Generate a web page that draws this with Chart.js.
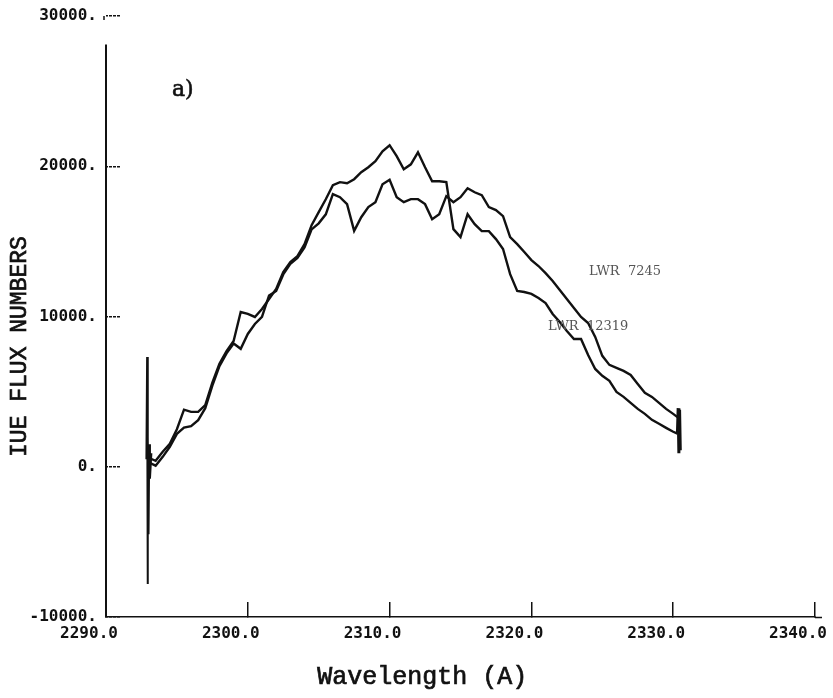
<!DOCTYPE html>
<html>
<head>
<meta charset="utf-8">
<title>IUE spectra</title>
<script src="https://cdn.jsdelivr.net/npm/chart.js@4.4.1/dist/chart.umd.min.js"></script>
<style>
  html, body { margin: 0; padding: 0; background: #fff; }
</style>
</head>
<body>
<canvas id="spectrum" width="833" height="698"></canvas>
<script>
// Wavelength grid (A), read every 0.5 A off the plot
const wavelength = [
  2293.0, 2293.5, 2294.0, 2294.5, 2295.0, 2295.5, 2296.0, 2296.5, 2297.0, 2297.5,
  2298.0, 2298.5, 2299.0, 2299.5, 2300.0, 2300.5, 2301.0, 2301.5, 2302.0, 2302.5,
  2303.0, 2303.5, 2304.0, 2304.5, 2305.0, 2305.5, 2306.0, 2306.5, 2307.0, 2307.5,
  2308.0, 2308.5, 2309.0, 2309.5, 2310.0, 2310.5, 2311.0, 2311.5, 2312.0, 2312.5,
  2313.0, 2313.5, 2314.0, 2314.5, 2315.0, 2315.5, 2316.0, 2316.5, 2317.0, 2317.5,
  2318.0, 2318.5, 2319.0, 2319.5, 2320.0, 2320.5, 2321.0, 2321.5, 2322.0, 2322.5,
  2323.0, 2323.5, 2324.0, 2324.5, 2325.0, 2325.5, 2326.0, 2326.5, 2327.0, 2327.5,
  2328.0, 2328.5, 2329.0, 2329.5, 2330.0, 2330.3
];

// LWR 12319 : higher around the peak, lower on the red side
const fluxLwr12319 = [
  600, 400, 1000, 1530, 2500, 3800, 3650, 3650, 4100, 5600,
  6850, 7700, 8370, 10300, 10170, 9970, 10500, 11160, 11830, 12960,
  13620, 14020, 14820, 16080, 16950, 17800, 18740, 18940, 18870, 19140,
  19600, 19935, 20330, 21000, 21400, 20670, 19800, 20130, 20930, 19935,
  19000, 19000, 18940, 15815, 15280, 16810, 16150, 15680, 15680, 15150,
  14490, 12820, 11700, 11630, 11500, 11230, 10900, 10170, 9635, 9040,
  8500, 8500, 7440, 6510, 6050, 5715, 4980, 4650, 4250, 3850,
  3520, 3120, 2860, 2590, 2330, 2200
];

// LWR 7245 : lower around the peak, higher on the red side
const fluxLwr7245 = [
  300, 70, 660, 1330, 2190, 2600, 2700, 3100, 3900, 5400,
  6700, 7550, 8200, 7850, 8840, 9500, 9970, 11400, 11700, 12800,
  13500, 13900, 14600, 15800, 16200, 16800, 18140, 17940, 17480, 15700,
  16610, 17280, 17610, 18800, 19100, 17940, 17610, 17810, 17810, 17480,
  16480, 16810, 18010, 17610, 17940, 18540, 18270, 18070, 17280, 17080,
  16680, 15280, 14820, 14290, 13755, 13360, 12890, 12360, 11760, 11160,
  10570, 9970, 9570, 8640, 7380, 6780, 6580, 6380, 6110, 5515,
  4920, 4650, 4250, 3850, 3520, 3300
];

// noisy first and last pixels of the spectra
const startSpikeWave = [2292.85, 2292.9, 2292.93, 2292.96, 2293.0, 2293.05, 2293.1, 2293.2];
const startSpikeFlux = [500, 7300, -7800, 2000, -4500, 1500, -800, 900];
const endSpikeWave = [2330.3, 2330.35, 2330.4, 2330.45, 2330.5];
const endSpikeFlux = [2300, 3900, 900, 3800, 1100];

const xMin = 2290, xMax = 2340, xStep = 10;
const yMin = -10000, yMax = 30000, yStep = 10000;

function toPoints(xs, ys) {
  return xs.map((x, i) => ({ x: x, y: ys[i] }));
}

const ink = '#111';

// Labels, titles and the left axis line (which stops short of the top tick)
const plotLabels = {
  id: 'plotLabels',
  afterDraw(chart) {
    const { ctx } = chart;
    const x = chart.scales.x, y = chart.scales.y;
    ctx.save();

    ctx.strokeStyle = ink;
    ctx.lineWidth = 2;
    ctx.beginPath();
    ctx.moveTo(x.left, y.getPixelForValue(28100));
    ctx.lineTo(x.left, y.bottom);
    ctx.stroke();

    // bottom axis runs a little past the last tick
    ctx.lineWidth = 1.5;
    ctx.beginPath();
    ctx.moveTo(x.right, y.bottom + 0.5);
    ctx.lineTo(x.right + 7, y.bottom + 0.5);
    ctx.stroke();

    // little hook on the top tick
    ctx.beginPath();
    ctx.moveTo(x.left - 2, y.getPixelForValue(yMax) + 4);
    ctx.lineTo(x.left - 2, y.getPixelForValue(yMax));
    ctx.stroke();

    ctx.fillStyle = ink;
    ctx.font = '22px "DejaVu Serif"';
    ctx.textAlign = 'left';
    ctx.textBaseline = 'alphabetic';
    ctx.lineWidth = 0.6;
    ctx.fillText('a)', x.getPixelForValue(2294.65), y.getPixelForValue(24700));
    ctx.strokeText('a)', x.getPixelForValue(2294.65), y.getPixelForValue(24700));

    ctx.fillStyle = '#555';
    ctx.font = '13px "DejaVu Serif"';
    ctx.textAlign = 'center';
    ctx.textBaseline = 'middle';
    ctx.fillText('LWR  7245', x.getPixelForValue(2326.6), y.getPixelForValue(13000));
    ctx.fillText('LWR  12319', x.getPixelForValue(2324.0), y.getPixelForValue(9350));

    ctx.fillStyle = ink;
    ctx.lineWidth = 0.7;
    ctx.font = '25px "Liberation Mono"';
    ctx.fillText('Wavelength (A)', x.getPixelForValue(2312.3), y.bottom + 60);
    ctx.strokeText('Wavelength (A)', x.getPixelForValue(2312.3), y.bottom + 60);

    ctx.translate(20, y.getPixelForValue(8000));
    ctx.rotate(-Math.PI / 2);
    ctx.font = '23px "Liberation Mono"';
    ctx.fillText('IUE FLUX NUMBERS', 0, 0);
    ctx.strokeText('IUE FLUX NUMBERS', 0, 0);
    ctx.restore();
  }
};

const lineStyle = {
  borderColor: ink,
  borderWidth: 2.4,
  pointRadius: 0,
  fill: false,
  tension: 0
};

new Chart(document.getElementById('spectrum'), {
  type: 'line',
  data: {
    datasets: [
      Object.assign({ label: 'LWR 12319', data: toPoints(wavelength, fluxLwr12319) }, lineStyle),
      Object.assign({ label: 'LWR 7245', data: toPoints(wavelength, fluxLwr7245) }, lineStyle),
      Object.assign({ label: 'start', data: toPoints(startSpikeWave, startSpikeFlux) }, lineStyle, { borderWidth: 2 }),
      Object.assign({ label: 'end', data: toPoints(endSpikeWave, endSpikeFlux) }, lineStyle, { borderWidth: 3 })
    ]
  },
  options: {
    responsive: false,
    animation: false,
    devicePixelRatio: 1,
    layout: { padding: { top: 16, right: 18, left: 0, bottom: 0 } },
    plugins: {
      legend: { display: false },
      tooltip: { enabled: false }
    },
    scales: {
      x: {
        type: 'linear',
        min: xMin,
        max: xMax,
        afterFit(s) {
          s.height = 81;
          s.paddingLeft = 0;
          s.paddingRight = 0;
        },
        border: { display: true, color: ink, width: 1.5, dash: [5, 1] },
        grid: {
          drawOnChartArea: false,
          drawTicks: true,
          tickLength: -15,
          color: ink,
          lineWidth: 1.5
        },
        ticks: {
          stepSize: xStep,
          padding: 22,
          labelOffset: -17,
          maxRotation: 0,
          color: ink,
          font: { family: '"DejaVu Sans Mono"', size: 16, weight: 'bold' },
          callback: v => v.toFixed(1)
        }
      },
      y: {
        type: 'linear',
        min: yMin,
        max: yMax,
        afterFit(s) {
          s.width = 106;
          s.paddingTop = 0;
          s.paddingBottom = 0;
        },
        border: { display: false },
        grid: {
          drawOnChartArea: false,
          drawTicks: true,
          tickLength: -14,
          color: ink,
          lineWidth: 1.5,
          tickBorderDash: [3, 1]
        },
        ticks: {
          stepSize: yStep,
          padding: 23,
          color: ink,
          font: { family: '"DejaVu Sans Mono"', size: 16, weight: 'bold' },
          callback: v => v + '.'
        }
      }
    }
  },
  plugins: [plotLabels]
});
</script>
</body>
</html>
